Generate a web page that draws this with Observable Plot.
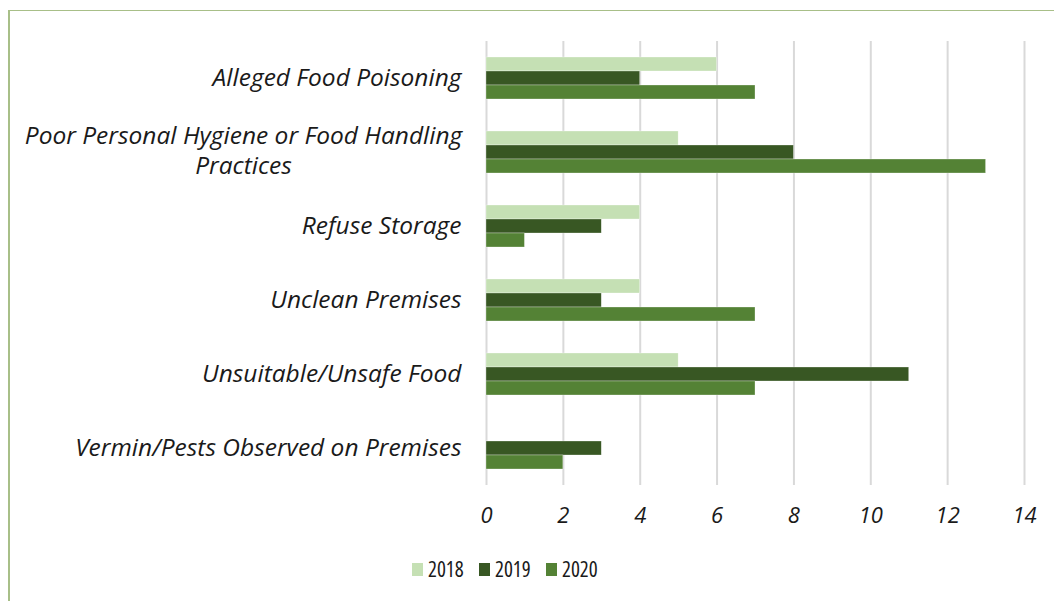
<!DOCTYPE html>
<html><head><meta charset="utf-8">
<script src="https://cdn.jsdelivr.net/npm/d3@7"></script>
<script src="https://cdn.jsdelivr.net/npm/@observablehq/plot@0.6"></script>
<style>
body{margin:0;background:#fff;font-family:"Open Sans",sans-serif;}
#frame{position:absolute;left:8px;top:10px;width:1046px;height:591px;border-left:2px solid #a8bf88;border-top:1.5px solid #a8bf88;box-sizing:border-box;}
#chart{position:absolute;left:0;top:0;}
#legend{position:absolute;top:555px;left:412px;display:flex;align-items:center;font-size:21px;font-stretch:87.5%;color:#1a1a1a;}
#legend .item{display:flex;align-items:center;}
#legend .sw{width:11px;height:13px;margin-right:5px;}
#legend .t{display:inline-block;width:51px;}
</style>
</head><body>
<div id="frame"></div>
<div id="chart"></div>
<div id="legend"></div>
<script>
const categories = [
  "Alleged Food Poisoning",
  "Poor Personal Hygiene or Food Handling Practices",
  "Refuse Storage",
  "Unclean Premises",
  "Unsuitable/Unsafe Food",
  "Vermin/Pests Observed on Premises"
];
const years = ["2018", "2019", "2020"];
const v2018 = [6, 5, 4, 4, 5, 0];
const v2019 = [4, 8, 3, 3, 11, 3];
const v2020 = [7, 13, 1, 7, 7, 2];
const xTicks = [0, 2, 4, 6, 8, 10, 12, 14];
const colors = ["#c5e0b4", "#385723", "#548235"];

const series = [v2018, v2019, v2020];
const rows = [];
categories.forEach((c, i) => years.forEach((y, j) => rows.push({category: c, year: y, value: series[j][i]})));

const wrapped = "Poor Personal Hygiene or Food Handling Practices";
const labelText = d => d === wrapped ? "Poor Personal Hygiene or Food Handling\nPractices" : d;

const chart = Plot.plot({
  width: 1054,
  height: 540,
  marginLeft: 486,
  marginRight: 30,
  marginTop: 40,
  marginBottom: 55,
  style: {fontFamily: "'Open Sans', sans-serif", fontSize: "20px", background: "transparent"},
  x: {domain: [0, 14], axis: null},
  fy: {domain: categories, padding: 0, axis: null},
  y: {domain: years, paddingInner: 0, paddingOuter: 0.972, axis: null},
  color: {domain: years, range: colors},
  marks: [
    Plot.ruleX(xTicks, {stroke: "#d9d9d9", strokeWidth: 2}),
    Plot.barX(rows.filter(d => d.value > 0), {x: "value", y: "year", fy: "category", fill: "year", stroke: "#ffffff", strokeOpacity: 0.5, strokeWidth: 0.6}),
    Plot.axisX(xTicks, {tickSize: 0, tickPadding: 22, fontSize: 22, fontStyle: "italic", fill: "#1a1a1a", label: null}),
    Plot.text(categories.filter(d => d !== wrapped), {fy: d => d, text: labelText, frameAnchor: "left", textAnchor: "end", dx: -25, fontSize: 24.5, fontStyle: "italic", fill: "#1a1a1a"}),
    Plot.text(categories.filter(d => d === wrapped), {fy: d => d, text: labelText, frameAnchor: "left", textAnchor: "middle", dx: -243, dy: -3, lineHeight: 1.22, fontSize: 24.5, fontStyle: "italic", fill: "#1a1a1a"})
  ]
});
document.getElementById("chart").appendChild(chart);

const legend = document.getElementById("legend");
years.forEach((y, j) => {
  const item = document.createElement("div");
  item.className = "item";
  const sw = document.createElement("span");
  sw.className = "sw";
  sw.style.background = colors[j];
  const t = document.createElement("span");
  t.className = "t";
  t.textContent = y;
  item.appendChild(sw);
  item.appendChild(t);
  legend.appendChild(item);
});
</script>
</body></html>
